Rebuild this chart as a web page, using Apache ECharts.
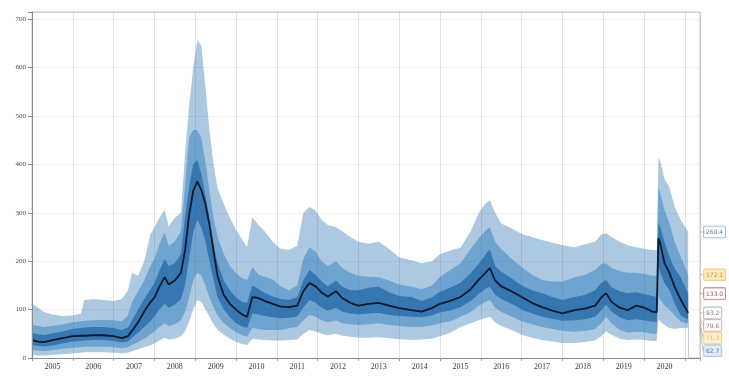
<!DOCTYPE html>
<html>
<head>
<meta charset="utf-8">
<script src="https://cdn.jsdelivr.net/npm/echarts@6/dist/echarts.min.js"></script>
<style>
  html, body { margin: 0; padding: 0; background: #fff; }
  #chart { width: 729px; height: 376px; }
</style>
</head>
<body>
<div id="chart"></div>
<script>
// Observation dates as fractional years
const dates = [
  2005.00, 2005.15, 2005.30, 2005.50, 2005.75, 2006.00, 2006.20, 2006.28, 2006.50, 2006.75,
  2007.00, 2007.20, 2007.35, 2007.45, 2007.60, 2007.75, 2007.90, 2008.00, 2008.12, 2008.25,
  2008.35, 2008.50, 2008.65, 2008.75, 2008.85, 2008.95, 2009.05, 2009.15, 2009.25, 2009.35,
  2009.45, 2009.55, 2009.70, 2009.85, 2010.00, 2010.15, 2010.27, 2010.40, 2010.55, 2010.70,
  2010.90, 2011.10, 2011.30, 2011.50, 2011.65, 2011.80, 2011.95, 2012.10, 2012.25, 2012.45,
  2012.60, 2012.80, 2013.00, 2013.25, 2013.50, 2013.75, 2014.00, 2014.30, 2014.55, 2014.80,
  2015.00, 2015.25, 2015.50, 2015.75, 2015.95, 2016.10, 2016.22, 2016.35, 2016.50, 2016.75,
  2017.00, 2017.25, 2017.50, 2017.75, 2018.00, 2018.30, 2018.55, 2018.80, 2018.95, 2019.07,
  2019.20, 2019.40, 2019.60, 2019.80, 2020.00, 2020.20, 2020.31, 2020.35, 2020.40, 2020.50,
  2020.62, 2020.75, 2020.90, 2021.08
];

// Percentile paths of the spread distribution
const p5 = [
  6, 5, 5, 6, 8, 10, 11, 12, 12, 12,
  11, 10, 11, 14, 18, 22, 26, 30, 36, 42,
  38, 40, 45, 55, 75, 100, 120, 115, 100, 85,
  70, 58, 48, 40, 33, 29, 27, 40, 38, 37,
  36, 36, 37, 38, 50, 58, 55, 50, 47, 50,
  46, 44, 42, 42, 43, 41, 39, 37, 38, 40,
  45, 52, 64, 72, 78, 82, 85, 74, 66, 58,
  48, 42, 37, 34, 31, 31, 33, 36, 45, 55,
  48, 40, 37, 38, 37, 35, 35, 80, 75, 68,
  62, 60, 62, 62.7
];
const p10 = [
  17, 15, 14, 16, 19, 21, 22, 23, 23, 23,
  22, 20, 22, 27, 33, 40, 48, 55, 64, 72,
  66, 70, 78, 95, 125, 160, 176, 170, 150, 125,
  105, 88, 72, 62, 53, 47, 44, 62, 60, 58,
  58, 58, 62, 64, 78, 89, 85, 78, 74, 78,
  72, 70, 68, 70, 72, 68, 66, 64, 64, 67,
  72, 76, 85, 95, 108, 115, 120, 104, 95, 86,
  76, 70, 64, 60, 56, 54, 56, 60, 72, 85,
  72, 58, 52, 54, 53, 50, 50, 130, 120, 108,
  100, 88, 75, 71.3
];
const p25 = [
  27, 25, 24, 26, 30, 34, 35, 36, 37, 37,
  35, 32, 34, 42, 52, 64, 76, 85, 100, 112,
  104, 110, 122, 150, 205, 260, 285, 270, 240, 200,
  160, 125, 100, 84, 72, 65, 62, 92, 90, 87,
  84, 82, 83, 86, 105, 120, 114, 104, 98, 104,
  96, 92, 90, 92, 93, 89, 87, 85, 84, 88,
  94, 98, 105, 118, 132, 142, 147, 130, 122, 112,
  100, 92, 85, 81, 77, 78, 80, 85, 98, 110,
  96, 84, 78, 80, 78, 75, 75, 190, 175, 155,
  140, 112, 88, 79.6
];
const p50 = [
  37, 34, 33, 37, 41, 45, 46, 46, 47, 47,
  45, 41, 45, 56, 74, 96, 115, 125, 147, 167,
  152, 160, 176, 222, 295, 345, 365, 347, 318, 275,
  220, 168, 130, 112, 100, 90, 85, 126, 124, 118,
  112, 106, 105, 108, 138, 155, 148, 135, 127, 138,
  124, 114, 108, 112, 114, 108, 103, 99, 96, 103,
  112, 118, 126, 142, 162, 175, 186, 160, 148, 138,
  126, 114, 105, 98, 92, 99, 102, 108, 125, 134,
  116, 104, 99, 108, 104, 96, 95, 248, 235, 196,
  176, 147, 120, 93.2
];
const p75 = [
  52, 49, 47, 51, 55, 60, 62, 63, 64, 64,
  62, 58, 63, 78, 100, 122, 142, 155, 180, 205,
  190, 196, 215, 290, 355, 400, 409, 380, 335, 290,
  235, 195, 160, 140, 125, 116, 114, 150, 142, 135,
  127, 122, 120, 126, 160, 182, 172, 158, 148, 160,
  148, 140, 140, 145, 147, 136, 128, 126, 118, 125,
  137, 145, 155, 175, 195, 212, 225, 190, 178, 165,
  150, 140, 134, 126, 120, 126, 130, 140, 155, 161,
  146, 138, 134, 136, 132, 128, 126, 279, 270, 240,
  209, 185, 167, 133.0
];
const p90 = [
  70, 66, 64, 66, 70, 74, 76, 77, 78, 79,
  78, 76, 88, 115, 138, 160, 190, 205, 235, 260,
  232, 240, 262, 355, 455, 471, 471, 455, 405, 345,
  290, 250, 215, 190, 175, 165, 161, 188, 172, 168,
  162, 148, 140, 150, 205, 229, 220, 200, 190, 200,
  186, 176, 170, 168, 167, 160, 152, 147, 142, 150,
  168, 182, 196, 225, 248, 262, 270, 240, 225, 205,
  188, 172, 161, 158, 158, 167, 172, 182, 194, 196,
  186, 180, 176, 176, 174, 170, 170, 353, 340, 305,
  279, 240, 209, 172.1
];
const p95 = [
  112, 104, 95, 90, 87, 88, 92, 120, 122, 120,
  118, 122, 140, 176, 170, 200, 255, 270, 290, 306,
  272, 290, 300, 420, 520, 600, 657, 645, 560, 470,
  400, 350, 318, 290, 265, 245, 229, 291, 275, 262,
  240, 226, 223, 232, 300, 312, 305, 285, 275, 270,
  262, 250, 240, 236, 240, 225, 208, 202, 196, 200,
  215, 222, 228, 262, 300, 318, 326, 300, 278, 268,
  256, 250, 244, 238, 233, 229, 235, 240, 255, 258,
  250, 240, 233, 229, 226, 223, 223, 415, 405, 370,
  353, 312, 285, 260.4
];

// Axis ticks and labels
const years = ['2005', '2006', '2007', '2008', '2009', '2010', '2011', '2012',
               '2013', '2014', '2015', '2016', '2017', '2018', '2019', '2020'];
const yTicks = [0, 100, 200, 300, 400, 500, 600, 700];

const X_MIN = 2005;
const X_MAX = 2021.37;
const Y_MAX = 715;

const LIGHT = '#adc9e2';
const MEDIUM = '#70a4d0';
const DARK = '#3676b1';

const pairs = (arr) => dates.map((t, i) => [t, arr[i]]);

// Each fan layer is an area filled down to zero; later layers paint over earlier ones
function layer(name, arr, color) {
  return {
    name, type: 'line', data: pairs(arr),
    symbol: 'none', silent: true,
    lineStyle: { width: 0 },
    areaStyle: { color, opacity: 1, origin: 'start' },
    z: 2
  };
}

// Last-value tags on the right edge
const lastIdx = dates.length - 1;
const tagPaths = [p95, p90, p75, p50, p25, p10, p5];
const tagStyles = [
  { bg: '#ffffff', border: '#7f9fbe', color: '#2c5378' },
  { bg: '#fde4ad', border: '#eab865', color: '#b77b22' },
  { bg: '#ffffff', border: '#a86363', color: '#7a2a2a' },
  { bg: '#ffffff', border: '#9aa4ae', color: '#4c5a68' },
  { bg: '#ffffff', border: '#d98c8c', color: '#b23434' },
  { bg: '#fdebc3', border: '#f0c878', color: '#d9a85a' },
  { bg: '#dbe9f6', border: '#8fb2d3', color: '#2f5b86' }
];
const tagData = tagPaths.map((arr, i) => ({
  value: [X_MAX, arr[lastIdx]],
  label: {
    show: true,
    formatter: '{t|' + arr[lastIdx].toFixed(1) + '}',
    padding: [2, 0, 2, 0],
    rich: {
      t: {
        backgroundColor: tagStyles[i].bg,
        borderColor: tagStyles[i].border,
        color: tagStyles[i].color,
        borderWidth: 0.8,
        borderRadius: 1,
        padding: [3, 2, 2, 2],
        fontSize: 6,
        fontFamily: 'DejaVu Sans'
      }
    }
  }
}));

const chart = echarts.init(document.getElementById('chart'), null, { renderer: 'canvas' });

chart.setOption({
  animation: false,
  backgroundColor: '#ffffff',
  grid: {
    left: 32, right: 29, top: 12, bottom: 18,
    show: true, borderColor: '#c4c4c4', borderWidth: 1, backgroundColor: 'transparent'
  },
  xAxis: [
    {
      type: 'value', min: X_MIN, max: X_MAX, interval: 1,
      axisLine: { show: true, onZero: false, lineStyle: { color: '#8a8a8a', width: 1 } },
      axisTick: { show: true, length: 3, lineStyle: { color: '#9a9a9a' } },
      axisLabel: { show: false },
      splitLine: { show: true, lineStyle: { color: 'rgba(90,90,90,0.17)', width: 1 } },
      z: 10
    },
    {
      type: 'value', min: X_MIN, max: X_MAX, interval: 0.5, position: 'bottom',
      axisLine: { show: false }, axisTick: { show: false }, splitLine: { show: false },
      axisLabel: {
        show: true, margin: 5, fontSize: 8, color: '#3a3a3a',
        fontFamily: 'Liberation Serif',
        formatter: (v) => {
          const f = v - Math.floor(v);
          if (Math.abs(f - 0.5) > 1e-6) return '';
          return years[Math.floor(v) - X_MIN] || '';
        }
      }
    }
  ],
  yAxis: {
    type: 'value', min: 0, max: Y_MAX, interval: 100,
    axisLine: { show: true, lineStyle: { color: '#8a8a8a', width: 1 } },
    axisTick: { show: true, length: 4, lineStyle: { color: '#8a8a8a' } },
    axisLabel: {
      margin: 6, fontSize: 7, color: '#4a4a4a', fontFamily: 'Liberation Serif',
      formatter: (v) => (yTicks.indexOf(v) >= 0 ? String(v) : '')
    },
    splitLine: { show: true, lineStyle: { color: 'rgba(90,90,90,0.09)', width: 1 } },
    z: 10
  },
  series: [
    layer('p95', p95, LIGHT),
    layer('p90', p90, MEDIUM),
    layer('p75', p75, DARK),
    layer('p25', p25, MEDIUM),
    layer('p10', p10, LIGHT),
    layer('p5', p5, '#ffffff'),
    {
      name: 'median', type: 'line', data: pairs(p50),
      symbol: 'none', silent: true,
      lineStyle: { color: '#0c1a2d', width: 1.8 },
      z: 5
    },
    {
      name: 'tags', type: 'scatter', data: tagData,
      symbolSize: 0, silent: true, z: 6,
      label: { show: true, position: 'right' },
      labelLine: { show: true, lineStyle: { color: '#9a9a9a', width: 0.6 } },
      labelLayout: () => ({
        x: chart.getWidth() - 25, align: 'left', verticalAlign: 'middle', moveOverlap: 'shiftY'
      })
    }
  ]
});
</script>
</body>
</html>
